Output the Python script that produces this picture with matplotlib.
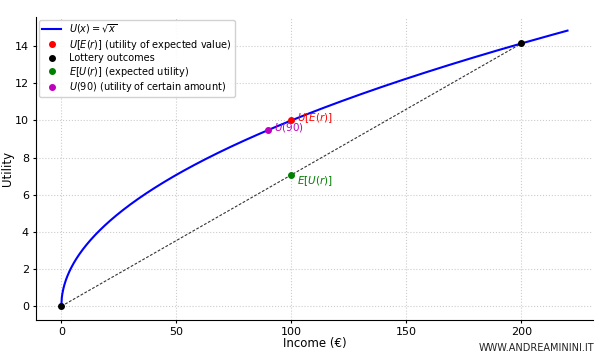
import numpy as np
import matplotlib
matplotlib.use("Agg")
import matplotlib.pyplot as plt

# data
x_max = 220
lottery_x = [0, 200]
expected_value = 100
certain_amount = 90

x = np.linspace(0, x_max, 1000)
u = np.sqrt(x)
lottery_u = [np.sqrt(v) for v in lottery_x]
u_ev = np.sqrt(expected_value)
eu = np.mean(lottery_u)
u_ce = np.sqrt(certain_amount)

fig = plt.figure(figsize=(6, 3.58), dpi=100)
ax = fig.add_axes([0.06, 0.106, 0.928, 0.847])

ax.plot(x, u, color='blue', lw=1.5, label=r'$U(x) = \sqrt{x}$')
ax.plot(lottery_x, lottery_u, '--', color='#333333', lw=0.8, dashes=(2.5, 1.5))
ax.plot(expected_value, u_ev, 'o', color='red', ms=4, label=r'$U[E(r)]$ (utility of expected value)')
ax.plot(lottery_x, lottery_u, 'o', color='black', ms=4, label='Lottery outcomes')
ax.plot(expected_value, eu, 'o', color='green', ms=4, label=r'$E[U(r)]$ (expected utility)')
ax.plot(certain_amount, u_ce, 'o', color='m', ms=4, label=r'$U(90)$ (utility of certain amount)')

ax.annotate(r'$U[E(r)]$', (expected_value, u_ev), xytext=(4, 1.5), textcoords='offset points',
            color='red', fontsize=7.5, va='center')
ax.annotate(r'$U(90)$', (certain_amount, u_ce), xytext=(4, 1.5), textcoords='offset points',
            color='m', fontsize=7.5, va='center')
ax.annotate(r'$E[U(r)]$', (expected_value, eu), xytext=(4, -4.5), textcoords='offset points',
            color='green', fontsize=7.5, va='center')

ax.set_xlabel('Income (€)', fontsize=8.5, labelpad=0)
ax.set_ylabel('Utility', fontsize=8.5, labelpad=1)
ax.tick_params(labelsize=8, direction='out', length=2.5, pad=2.5)
ax.grid(True, linestyle=':', color='#cccccc', lw=0.8)
ax.spines['top'].set_visible(False)
ax.spines['right'].set_visible(False)
ax.legend(loc='upper left', fontsize=7, framealpha=0.9, handlelength=2, borderpad=0.3,
          labelspacing=0.15, borderaxespad=0.3)

fig.text(0.99, 0.015, 'WWW.ANDREAMININI.IT', ha='right', va='bottom', fontsize=7, color='#222222')

fig.savefig('out.png', dpi=100)
